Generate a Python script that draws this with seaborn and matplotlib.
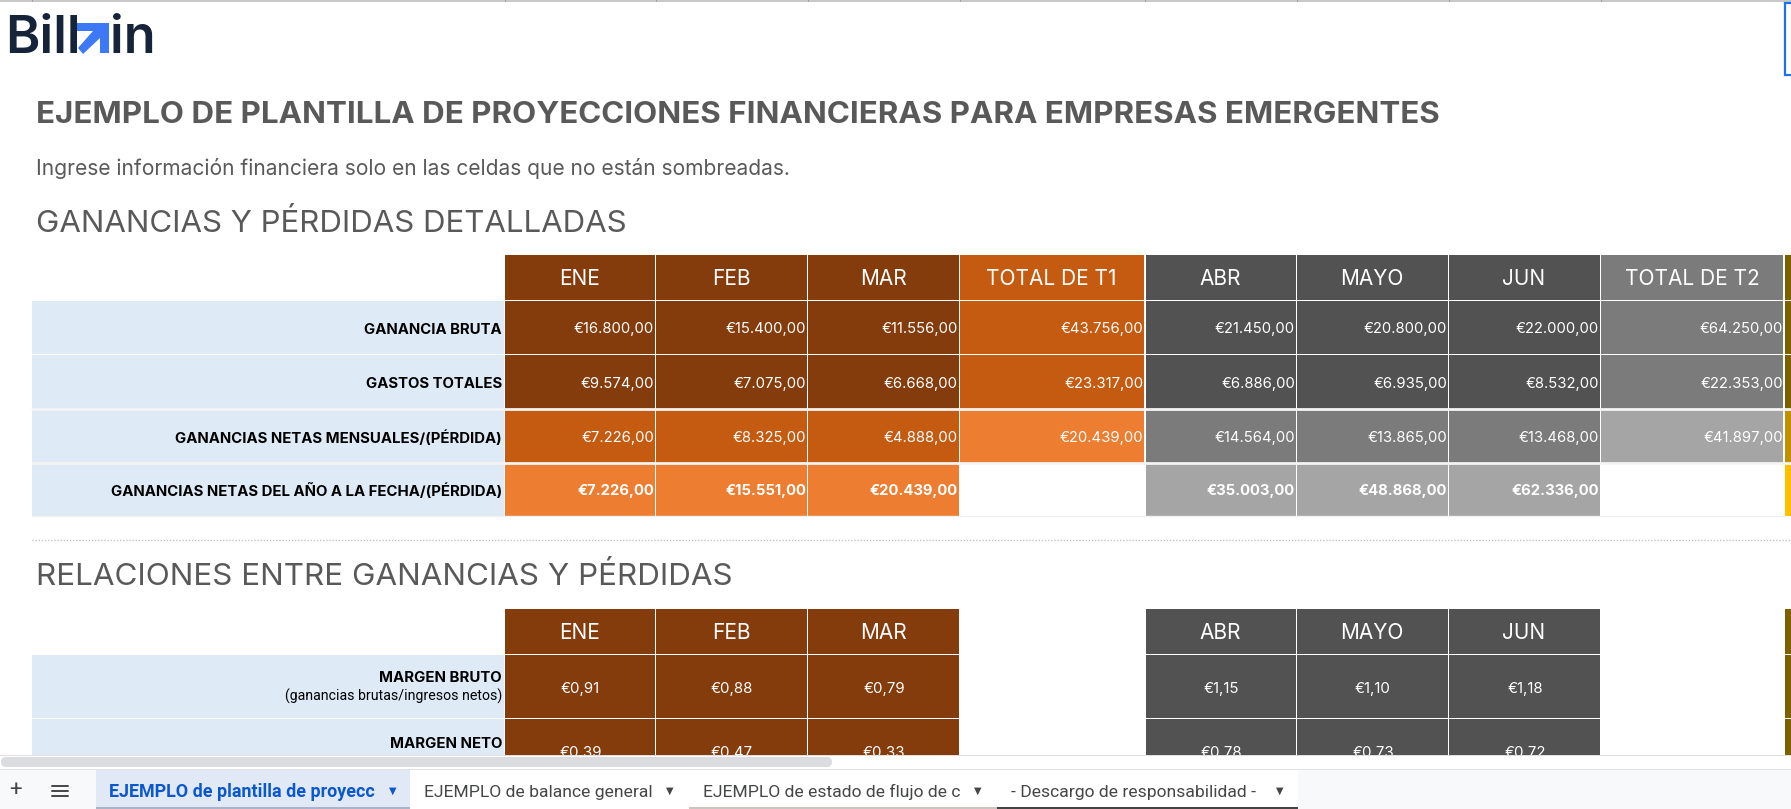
# Plantilla de proyecciones financieras - captura de la hoja de calculo
import numpy as np
import pandas as pd
import seaborn as sns
import matplotlib.pyplot as plt
from matplotlib.colors import ListedColormap
from matplotlib.patches import Polygon, Rectangle, FancyBboxPatch

# Datos
columnas_t1 = ['ENE', 'FEB', 'MAR', 'TOTAL DE T1', 'ABR', 'MAYO', 'JUN', 'TOTAL DE T2']
columnas_t2 = ['ENE', 'FEB', 'MAR', '', 'ABR', 'MAYO', 'JUN', '']

filas_pyg = ['GANANCIA BRUTA', 'GASTOS TOTALES',
             'GANANCIAS NETAS MENSUALES/(PÉRDIDA)',
             'GANANCIAS NETAS DEL AÑO A LA FECHA/(PÉRDIDA)']
ganancia_bruta = [16800, 15400, 11556, 43756, 21450, 20800, 22000, 64250]
gastos_totales = [9574, 7075, 6668, 23317, 6886, 6935, 8532, 22353]
netas_mensuales = [7226, 8325, 4888, 20439, 14564, 13865, 13468, 41897]
netas_acumuladas = [7226, 15551, 20439, None, 35003, 48868, 62336, None]

filas_rel = ['MARGEN BRUTO', 'MARGEN NETO']
nota_margen_bruto = '(ganancias brutas/ingresos netos)'
margen_bruto = [0.91, 0.88, 0.79, None, 1.15, 1.10, 1.18, None]
margen_neto = [0.39, 0.47, 0.33, None, 0.78, 0.73, 0.72, None]

pestanas = ['EJEMPLO de plantilla de proyecc', 'EJEMPLO de balance general',
            'EJEMPLO de estado de flujo de c', '- Descargo de responsabilidad -']

# Colores: 0 blanco, 1 etiqueta, 2-4 T1, 5-7 T2, 8-10 T3
colores = ['#FFFFFF', '#DEEAF6',
           '#843C0C', '#C55A11', '#ED7D31',
           '#525252', '#7B7B7B', '#A5A5A5',
           '#7F6000', '#BF9000', '#FFC000']
cmap = ListedColormap(colores)

borde_col = [31, 504, 655, 807, 959, 1144.5, 1296, 1448, 1600, 1784, 1791]
borde_fil_pyg = [254, 300, 354, 408.5, 462.5, 515.5]
borde_fil_rel = [608, 654, 718, 782]

W, H = 1791, 809

sns.set_theme(style='white')
plt.rcParams['font.family'] = ['Inter', 'DejaVu Sans']
fig = plt.figure(figsize=(W / 100, H / 100), dpi=100, facecolor='white')


def moneda(v, dec=2):
    s = f'{v:,.{dec}f}'.replace(',', 'X').replace('.', ',').replace('X', '.')
    return '€' + s


def tono(valor, fila, col):
    # fila oscura / media / clara segun la profundidad, los totales van un tono mas claro
    if valor is None:
        return 0
    total = 1 if col in (3, 7) else 0
    base = 2 if col < 4 else 5
    return base + fila + total


def tabla(cabecera, filas, bordes_y, profundidad):
    n_fil = len(filas) + 1
    m = np.zeros((n_fil, 10))
    for j, nombre in enumerate(cabecera):
        m[0, j + 1] = tono(nombre if nombre else None, 0, j) if j not in (3, 7) or nombre else 0
    for i, fila in enumerate(filas):
        m[i + 1, 0] = 1
        for j, v in enumerate(fila):
            m[i + 1, j + 1] = tono(v, profundidad[i], j)
    # columna T3, solo se ve el borde
    m[0, 9] = 8
    for i in range(len(filas)):
        m[i + 1, 9] = 8 + profundidad[i]

    ax = fig.add_axes([borde_col[0] / W, 1 - bordes_y[-1] / H,
                       (borde_col[-1] - borde_col[0]) / W, (bordes_y[-1] - bordes_y[0]) / H])
    sns.heatmap(pd.DataFrame(m), ax=ax, cmap=cmap, vmin=-0.5, vmax=10.5, cbar=False,
                linewidths=0.55, linecolor='white', xticklabels=False, yticklabels=False)

    ix = np.arange(len(borde_col), dtype=float)
    iy = np.arange(len(bordes_y), dtype=float)
    ax.set_xscale('function', functions=(lambda v: np.interp(v, ix, borde_col),
                                         lambda p: np.interp(p, borde_col, ix)))
    ax.set_yscale('function', functions=(lambda v: np.interp(v, iy, bordes_y),
                                         lambda p: np.interp(p, bordes_y, iy)))
    ax.set_xlim(0, len(ix) - 1)
    ax.set_ylim(len(iy) - 1, 0)
    ax.set_xticks([])
    ax.set_yticks([])
    ax.minorticks_off()
    return ax


# Textos y adornos en coordenadas de pixel
over = fig.add_axes([0, 0, 1, 1], zorder=5)
over.set_xlim(0, W)
over.set_ylim(H, 0)
over.axis('off')
over.patch.set_alpha(0)

# Cabecera de la hoja
over.add_patch(Rectangle((0, 0), W, 2, fc='#C8C8C8', ec='none'))
for x in [32, 505, 656, 808, 960, 1145, 1297, 1449, 1601]:
    over.add_patch(Rectangle((x, 0), 1, 2, fc='#A0A0A0', ec='none'))

# Logo
azul_logo = '#3D78F7'
navy = '#16243A'
over.text(5, 53, 'Bill', fontsize=37.5, fontweight='semibold', color=navy, va='baseline')
over.text(110, 53, 'in', fontsize=37.5, fontweight='semibold', color=navy, va='baseline')
over.add_patch(Polygon([(77, 23), (109, 23), (109, 53), (100, 53), (100, 38), (83, 54),
                        (78, 48), (93, 31), (77, 31)], fc=azul_logo, ec='none'))

gris_titulo = '#595959'
over.text(36, 123, 'EJEMPLO DE PLANTILLA DE PROYECCIONES FINANCIERAS PARA EMPRESAS EMERGENTES',
          fontsize=22.55, fontweight='bold', color=gris_titulo, va='baseline')
over.text(36, 175, 'Ingrese información financiera solo en las celdas que no están sombreadas.',
          fontsize=15.1, color=gris_titulo, va='baseline')
over.text(36, 232, 'GANANCIAS Y PÉRDIDAS DETALLADAS', fontsize=22.5, color=gris_titulo, va='baseline')
over.text(36, 585, 'RELACIONES ENTRE GANANCIAS Y PÉRDIDAS', fontsize=22.6, color=gris_titulo, va='baseline')


def rotular(ax, cabecera, nombres, filas, n_bold=None, fmt=moneda, centrado=False):
    for j, nombre in enumerate(cabecera):
        ax.text(j + 1.5, 0.5, nombre, color='white', fontsize=15, ha='center', va='center_baseline')
    for i, (nombre, fila) in enumerate(zip(nombres, filas)):
        ax.annotate(nombre, (1, i + 1.5), xytext=(-2, -1), textcoords='offset pixels',
                    ha='right', va='center_baseline', color='black', fontsize=10.75, fontweight='bold')
        peso = 'bold' if i == n_bold else 'normal'
        for j, v in enumerate(fila):
            if v is None:
                continue
            if centrado:
                ax.annotate(fmt(v), (j + 1.5, i + 1.5), xytext=(1, -2), textcoords='offset pixels',
                            color='white', fontsize=10.8, ha='center', va='center_baseline')
            else:
                ax.annotate(fmt(v), (j + 2, i + 1.5), xytext=(-1, -1), textcoords='offset pixels',
                            ha='right', va='center_baseline', color='white', fontsize=10.7, fontweight=peso)


# Ganancias y perdidas
filas_1 = [ganancia_bruta, gastos_totales, netas_mensuales, netas_acumuladas]
ax1 = tabla(columnas_t1, filas_1, borde_fil_pyg, [0, 0, 1, 2])
rotular(ax1, columnas_t1, filas_pyg, filas_1, n_bold=3)
ax1.hlines([3, 4], 0, 10, color='#F4F4F4', lw=2.0)
ax1.vlines([5, 9], 0, 4, color='white', lw=1.4)

# Linea punteada de separacion
over.plot([32, W], [540, 540], color='#BDBDBD', lw=0.9, ls=(0, (1, 1.5)))
over.plot([32, 1784], [516, 516], color='#F0F0F0', lw=1)

# Relaciones
filas_2 = [margen_bruto, margen_neto]
ax2 = tabla(columnas_t2, filas_2, borde_fil_rel, [0, 0])
rotular(ax2, columnas_t2, ['', ''], filas_2, centrado=True)
ax2.annotate(filas_rel[0], (1, 1.5), xytext=(-2, 9), textcoords='offset pixels',
             ha='right', va='center_baseline', color='black', fontsize=10.8, fontweight='bold')
ax2.annotate(nota_margen_bruto, (1, 1.5), xytext=(-2, -9), textcoords='offset pixels',
             ha='right', va='center_baseline', color='black', fontsize=10.2, family='Roboto')
ax2.annotate(filas_rel[1], (1, 2.5), xytext=(-2, 7), textcoords='offset pixels',
             ha='right', va='center_baseline', color='black', fontsize=10.8, fontweight='bold')

# Barra inferior
over.add_patch(Rectangle((0, 755), W, 54, fc='white', ec='none'))
over.add_patch(Rectangle((0, 755), W, 1, fc='#E0E0E0', ec='none'))
over.add_patch(FancyBboxPatch((1, 757), 831, 10, boxstyle='round,pad=0,rounding_size=5',
                              fc='#DADCE0', ec='none'))
over.add_patch(Rectangle((0, 769), W, 40, fc='#F8F9FA', ec='none'))
over.add_patch(Rectangle((0, 769), W, 1, fc='#E0E0E0', ec='none'))
over.add_patch(Rectangle((96, 770), 314, 39, fc='#E1E9F7', ec='none'))
over.add_patch(Rectangle((96, 807), 314, 2, fc='#A9B4C8', ec='none'))
over.add_patch(Rectangle((410, 770), 280, 39, fc='white', ec='none'))
over.add_patch(Rectangle((689, 770), 308, 39, fc='white', ec='none'))
over.add_patch(Rectangle((689, 807), 308, 2, fc='#CBC4BF', ec='none'))
over.add_patch(Rectangle((997, 770), 301, 39, fc='white', ec='none'))
over.add_patch(Rectangle((997, 807), 301, 2, fc='#444444', ec='none'))

over.text(15, 790, '+', fontsize=16, color='#444746', ha='center', va='center', family='Roboto')
for y in (786, 791, 796):
    over.plot([52, 68], [y, y], color='#444746', lw=1.4)

x_pestana = [109, 424, 703, 1011]
x_flecha = [393, 670, 978, 1280]
for k, (nombre, x, xf) in enumerate(zip(pestanas, x_pestana, x_flecha)):
    activo = k == 0
    over.text(x, 792, nombre, fontsize=12.9 if activo else 12.6, family='Roboto', va='center',
              color='#0B57D0' if activo else '#444746', fontweight='bold' if activo else 'normal')
    over.text(xf, 791, '▼', fontsize=7, family='DejaVu Sans', ha='center', va='center',
              color='#0B57D0' if activo else '#444746')

# Seleccion azul arriba a la derecha
over.plot([W, 1785, 1785, W], [3, 3, 75, 75], color='#1A73E8', lw=1.6, solid_joinstyle='miter')

fig.savefig('out.png', dpi=100)
